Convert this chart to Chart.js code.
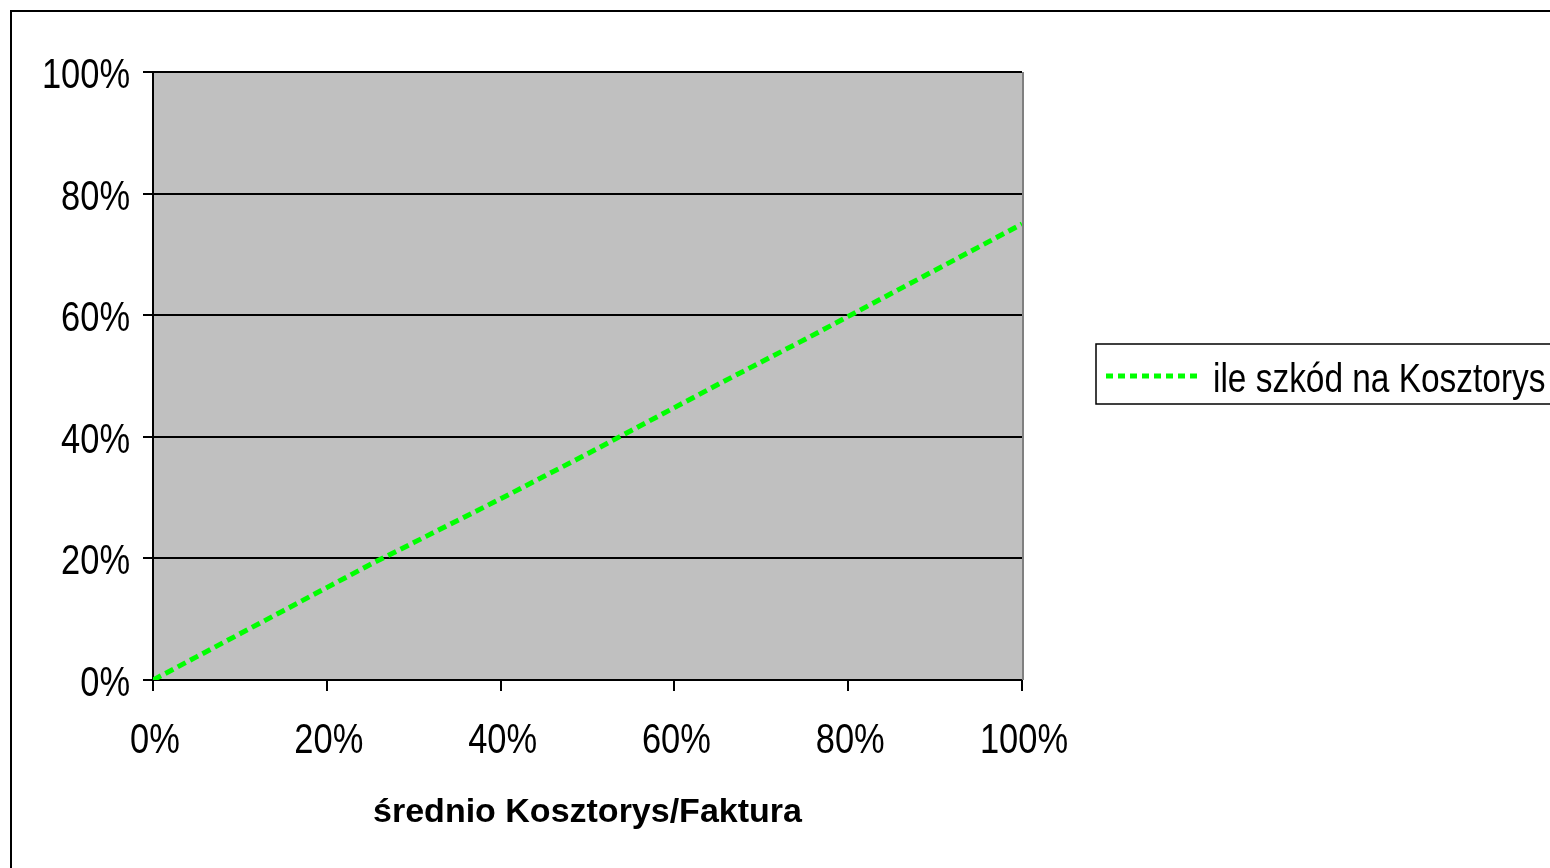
<!DOCTYPE html>
<html>
<head>
<meta charset="utf-8">
<script src="https://cdn.jsdelivr.net/npm/chart.js@4.4.1/dist/chart.umd.min.js"></script>
<style>
html,body{margin:0;padding:0;background:#fff;}
#wrap{width:1550px;height:868px;position:relative;overflow:hidden;}
canvas{display:block;}
</style>
</head>
<body>
<div id="wrap"><canvas id="c" width="1550" height="868"></canvas></div>
<script>
const seriesLabel = 'ile szkód na Kosztorys';
const xTitle = 'średnio Kosztorys/Faktura';
const xValues = [0, 5, 10, 15, 20, 25, 30, 35, 40, 45, 50, 55, 60, 65, 70, 75, 80, 85, 90, 95, 100];
const yValues = [0, 3.8, 7.6, 11.4, 15.2, 19, 22.6, 26.2, 29.8, 33.5, 37.2, 41, 44.8, 48.6, 52.3, 56, 59.8, 63.6, 67.4, 71.2, 75];
const tickValues = [0, 20, 40, 60, 80, 100];
const tickLabels = ['0%', '20%', '40%', '60%', '80%', '100%'];

const FONT = "'Liberation Sans', Arial, sans-serif";
const GREEN = '#00FF00';

function drawText(ctx, text, x, y, align, size, sx, weight) {
  ctx.save();
  ctx.font = (weight || 'normal') + ' ' + size + 'px ' + FONT;
  ctx.textBaseline = 'alphabetic';
  ctx.textAlign = align;
  ctx.fillStyle = '#000';
  ctx.translate(x, y);
  ctx.scale(sx, 1);
  ctx.fillText(text, 0, 0);
  ctx.restore();
}

const bgPlugin = {
  id: 'bg',
  beforeDraw(chart) {
    const ctx = chart.ctx, a = chart.chartArea;
    ctx.save();
    ctx.fillStyle = '#fff';
    ctx.fillRect(0, 0, chart.width, chart.height);
    ctx.strokeStyle = '#000';
    ctx.lineWidth = 2;
    ctx.strokeRect(11, 11, chart.width + 20, chart.height + 20);
    ctx.fillStyle = '#C0C0C0';
    ctx.fillRect(a.left, a.top, a.right - a.left, a.bottom - a.top);
    ctx.restore();
  },
  afterDatasetsDraw(chart) {
    const ctx = chart.ctx, a = chart.chartArea;
    const xs = chart.scales.x, ys = chart.scales.y;
    ctx.save();
    ctx.strokeStyle = '#808080';
    ctx.lineWidth = 2;
    ctx.beginPath();
    ctx.moveTo(a.right + 1, a.top);
    ctx.lineTo(a.right + 1, a.bottom);
    ctx.stroke();
    ctx.restore();

    // tick labels
    tickValues.forEach((v, i) => {
      drawText(ctx, tickLabels[i], ys.left + ys.width - 23, ys.getPixelForValue(v) + 16, 'right', 42, 0.82);
      drawText(ctx, tickLabels[i], xs.getPixelForValue(v) + 2, a.bottom + 73, 'center', 42, 0.82);
    });
    // axis title
    drawText(ctx, xTitle, (a.left + a.right) / 2, 822, 'center', 34, 1, 'bold');

    // legend
    const ds = chart.data.datasets[0];
    ctx.save();
    ctx.strokeStyle = '#000';
    ctx.lineWidth = 1.5;
    ctx.strokeRect(1096, 344, 520, 60);
    ctx.strokeStyle = ds.borderColor;
    ctx.lineWidth = 5;
    ctx.setLineDash([7, 5]);
    ctx.beginPath();
    ctx.moveTo(1106, 376);
    ctx.lineTo(1200, 376);
    ctx.stroke();
    ctx.restore();
    drawText(ctx, ds.label, 1213, 392, 'left', 41, 0.815);
  }
};

new Chart(document.getElementById('c'), {
  type: 'line',
  data: {
    datasets: [{
      label: seriesLabel,
      data: xValues.map((x, i) => ({x: x, y: yValues[i]})),
      borderColor: GREEN,
      borderWidth: 5,
      borderDash: [9, 5],
      pointRadius: 0,
      tension: 0,
      fill: false
    }]
  },
  options: {
    responsive: false,
    devicePixelRatio: 1,
    animation: false,
    layout: {padding: {left: 0, top: 72, right: 528, bottom: 0}},
    plugins: {legend: {display: false}, tooltip: {enabled: false}},
    scales: {
      x: {
        type: 'linear', min: 0, max: 100,
        afterBuildTicks(s) { s.ticks = tickValues.map(v => ({value: v})); },
        afterFit(s) { s.height = 188; },
        ticks: {display: false},
        grid: {drawOnChartArea: false, drawTicks: true, tickLength: 11, color: '#000', lineWidth: 2},
        border: {color: '#000', width: 2},
        title: {display: false}
      },
      y: {
        type: 'linear', min: 0, max: 100,
        afterBuildTicks(s) { s.ticks = tickValues.map(v => ({value: v})); },
        afterFit(s) { s.width = 153; },
        ticks: {display: false},
        grid: {drawOnChartArea: true, drawTicks: true, tickLength: 10, color: '#000', lineWidth: 2},
        border: {color: '#000', width: 2}
      }
    }
  },
  plugins: [bgPlugin]
});
</script>
</body>
</html>
